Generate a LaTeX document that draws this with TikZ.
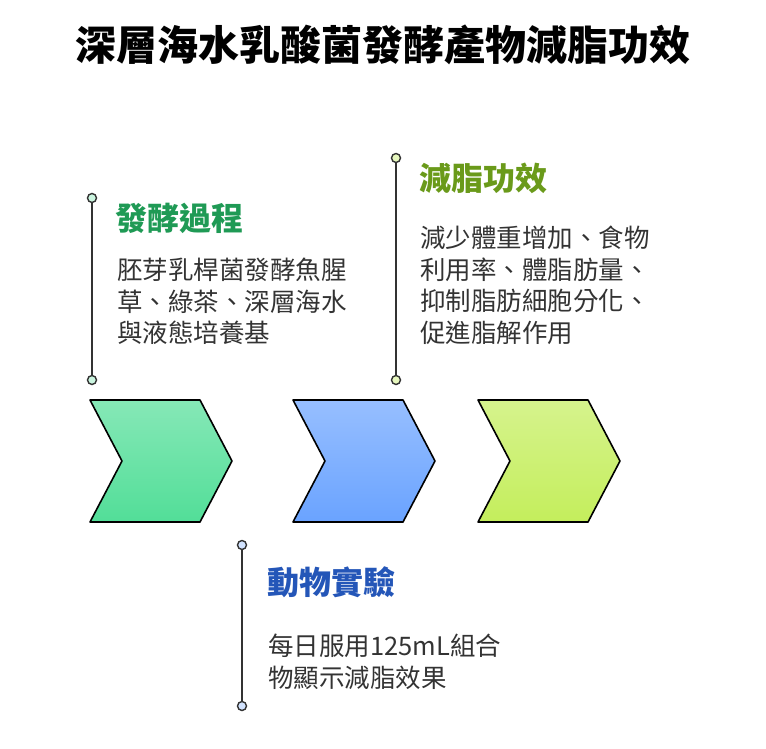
\documentclass[tikz,border=0pt]{standalone}
\usepackage{fontspec}
\newfontfamily\cjk{Noto Sans CJK TC}
\begin{document}
\begin{tikzpicture}[x=1pt,y=-1pt,
  chev/.style={draw=black,line width=1.6pt,line join=round},
  stem/.style={draw=black!80,line width=1.6pt},
  dot/.style={circle,draw=black!80,line width=1.4pt,minimum size=9pt,inner sep=0pt},
  head/.style={anchor=west,font=\cjk\bfseries\fontsize{32}{36}\selectfont},
  body/.style={anchor=north west,align=left,text=black!80,inner sep=0pt,font=\cjk\fontsize{25.5}{31.5}\selectfont}]
\useasboundingbox (0,0) rectangle (766,748);
\node[font=\cjk\bfseries\fontsize{41}{46}\selectfont] (title) at (383,45) {深層海水乳酸菌發酵產物減脂功效};
\definecolor{cg}{HTML}{52DE98}\definecolor{cb}{HTML}{6AA3FF}\definecolor{cl}{HTML}{C4EE5C}
\definecolor{hg}{HTML}{1F9A55}\definecolor{hl}{HTML}{6A9A1A}\definecolor{hb}{HTML}{2456B8}
\fill[top color=cg!70!white,bottom color=cg] (90,400)--(200,400)--(232,461)--(200,522)--(90,522)--(122,461)--cycle;
\fill[top color=cb!70!white,bottom color=cb] (293,400)--(403,400)--(435,461)--(403,522)--(293,522)--(325,461)--cycle;
\fill[top color=cl!70!white,bottom color=cl] (478,400)--(588,400)--(620,461)--(588,522)--(478,522)--(510,461)--cycle;
\draw[chev] (90,400)--(200,400)--(232,461)--(200,522)--(90,522)--(122,461)--cycle;
\draw[chev] (293,400)--(403,400)--(435,461)--(403,522)--(293,522)--(325,461)--cycle;
\draw[chev] (478,400)--(588,400)--(620,461)--(588,522)--(478,522)--(510,461)--cycle;
\node[dot,fill=cg!30] (a1) at (92,198) {};
\node[dot,fill=cg!30] (a2) at (92,380) {};
\draw[stem] (a1)--(a2);
\node[dot,fill=cl!40] (b1) at (396,158) {};
\node[dot,fill=cl!40] (b2) at (396,380) {};
\draw[stem] (b1)--(b2);
\node[dot,fill=cb!30] (c1) at (242,545) {};
\node[dot,fill=cb!30] (c2) at (242,706) {};
\draw[stem] (c1)--(c2);
\node[head,text=hg] (h1) at (112,218) {發酵過程};
\node[head,text=hl] (h2) at (416,178) {減脂功效};
\node[head,text=hb] (h3) at (264,582) {動物實驗};
\node[body] (t1) at (117,258) {胚芽乳桿菌發酵魚腥\\草、綠茶、深層海水\\與液態培養基};
\node[body] (t2) at (420,226) {減少體重增加、食物\\利用率、體脂肪量、\\抑制脂肪細胞分化、\\促進脂解作用};
\node[body] (t3) at (268,634) {每日服用125mL組合\\物顯示減脂效果};
\end{tikzpicture}
\end{document}
